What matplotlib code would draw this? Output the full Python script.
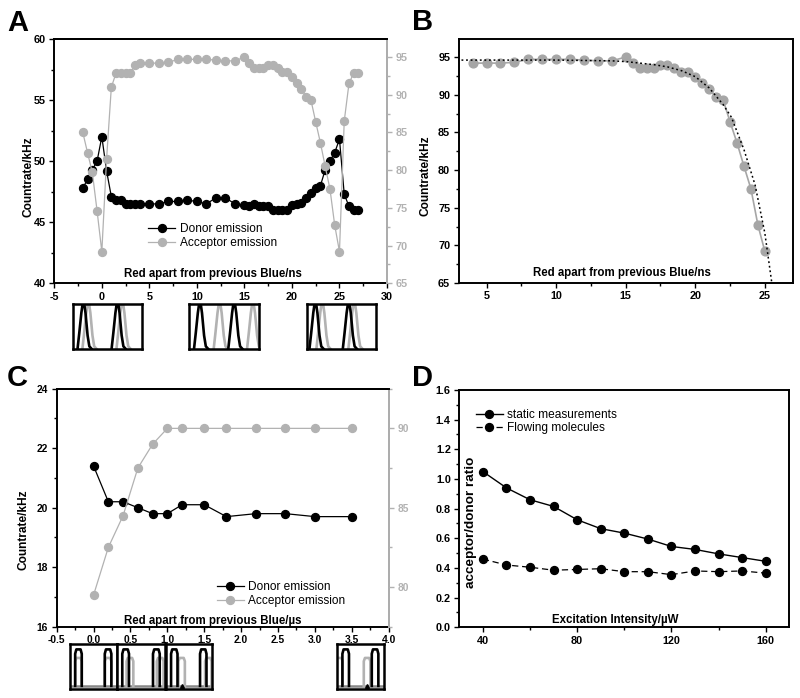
import matplotlib
matplotlib.use("Agg")
import matplotlib.pyplot as plt
from matplotlib.ticker import MultipleLocator
from matplotlib.lines import Line2D

plt.rcParams['font.family'] = ['Liberation Sans', 'DejaVu Sans']
plt.rcParams['axes.unicode_minus'] = False

W, H = 800, 698
BLACK = '#000000'
GRAY = '#b2b2b2'
GRAY_B = '#a6a6a6'

# Panel A
a_donor_x = [-2, -1.5, -1, -0.5, 0, 0.5, 1, 1.5, 2, 2.5, 3, 3.5, 4, 5, 6, 7, 8, 9, 10, 11, 12, 13, 14, 15, 15.5, 16,
             16.5, 17, 17.5, 18, 18.5, 19, 19.5, 20, 20.5, 21, 21.5, 22, 22.5, 23, 23.5, 24, 24.5, 25, 25.5, 26, 26.5, 27]
a_donor_y = [47.8, 48.5, 49.3, 50, 52, 49.2, 47.1, 46.8, 46.8, 46.5, 46.5, 46.5, 46.5, 46.5, 46.5, 46.7, 46.7, 46.8,
             46.7, 46.5, 47, 47, 46.5, 46.4, 46.3, 46.5, 46.3, 46.3, 46.3, 46, 46, 46, 46, 46.4, 46.5, 46.6, 47, 47.4,
             47.8, 48, 49.3, 50, 50.7, 51.8, 47.3, 46.3, 46, 46]
a_acc_x = [-2, -1.5, -1, -0.5, 0, 0.5, 1, 1.5, 2, 2.5, 3, 3.5, 4, 5, 6, 7, 8, 9, 10, 11, 12, 13, 14, 15, 15.5, 16,
           16.5, 17, 17.5, 18, 18.5, 19, 19.5, 20, 20.5, 21, 21.5, 22, 22.5, 23, 23.5, 24, 24.5, 25, 25.5, 26, 26.5, 27]
a_acc_y = [85, 82.3, 79.7, 74.6, 69.2, 81.5, 91, 92.9, 92.9, 92.9, 92.9, 93.9, 94.2, 94.2, 94.2, 94.3, 94.7, 94.7,
           94.7, 94.7, 94.6, 94.5, 94.5, 95, 94.2, 93.5, 93.6, 93.6, 94, 94, 93.5, 93, 93, 92.4, 91.5, 90.8, 89.7,
           89.3, 86.4, 83.6, 80.5, 77.5, 72.7, 69.2, 86.5, 91.5, 92.9, 92.9]

# Panel B
b_x = [4, 5, 6, 7, 8, 9, 10, 11, 12, 13, 14, 15, 15.5, 16, 16.5, 17, 17.5, 18, 18.5, 19, 19.5, 20, 20.5, 21, 21.5, 22,
       22.5, 23, 23.5, 24, 24.5, 25]
b_y = [94.2, 94.2, 94.2, 94.3, 94.7, 94.7, 94.7, 94.7, 94.6, 94.5, 94.5, 95, 94.2, 93.5, 93.6, 93.6, 94, 94, 93.5, 93,
       93, 92.4, 91.5, 90.8, 89.7, 89.3, 86.4, 83.6, 80.5, 77.5, 72.7, 69.2]
b_fit_x = [3.2, 10, 14, 15, 16, 17, 18, 19, 20, 21, 22, 22.6, 23.5, 24.3, 25, 25.5]
b_fit_y = [94.6, 94.6, 94.5, 94.4, 94.2, 94, 93.7, 93.2, 92.4, 90.9, 88.7, 87, 82.7, 78, 71.6, 65]

# Panel C
c_x = [0, 0.2, 0.4, 0.6, 0.8, 1.0, 1.2, 1.5, 1.8, 2.2, 2.6, 3.0, 3.5]
c_donor = [21.4, 20.2, 20.2, 20, 19.8, 19.8, 20.1, 20.1, 19.7, 19.8, 19.8, 19.7, 19.7]
c_acc = [79.5, 82.5, 84.5, 87.5, 89, 90, 90, 90, 90, 90, 90, 90, 90]

# Panel D
d_x = [40, 50, 60, 70, 80, 90, 100, 110, 120, 130, 140, 150, 160]
d_static = [1.05, 0.94, 0.86, 0.815, 0.725, 0.665, 0.635, 0.595, 0.545, 0.525, 0.495, 0.47, 0.445]
d_flow = [0.46, 0.42, 0.405, 0.385, 0.39, 0.395, 0.375, 0.375, 0.355, 0.38, 0.375, 0.38, 0.365]

# Pulse schematics
ns_shape_x = [-0.085, -0.06, -0.03, -0.01, 0.01, 0.03, 0.06, 0.085, 0.12]
ns_shape_y = [0.0, 0.35, 0.8, 1.02, 1.02, 0.8, 0.3, 0.06, 0.0]
a_pulses = [([0.15, 0.64], [0.22, 0.71]), ([0.157, 0.65], [0.44, 0.92]), ([0.12, 0.6], [0.22, 0.68])]
us_shape_x = [-0.07, -0.07, -0.045, 0.045, 0.07, 0.07]
us_shape_y = [0.0, 0.88, 1.0, 1.0, 0.88, 0.0]
c_pulses = [([0.18, 0.81], [0.18, 0.81]), ([0.18, 0.82], [0.27, 0.9]), ([0.18, 0.81], [0.34, 0.92]),
            ([0.185, 0.81], [0.05, 0.64])]

fig = plt.figure(figsize=(W / 100, H / 100), dpi=100, facecolor='white')


def axes_px(l, t, r, b):
    return fig.add_axes([l / W, 1 - b / H, (r - l) / W, (b - t) / H])


def style(ax, color=BLACK, size=7.8):
    for s in ax.spines.values():
        s.set_linewidth(1.4)
    ax.tick_params(which='major', length=3.6, width=1.0, labelsize=size, pad=2.5, colors=color)
    ax.tick_params(which='minor', length=2.2, width=1.0, colors=color)
    for lab in ax.get_xticklabels() + ax.get_yticklabels():
        lab.set_fontweight('bold')


def labels(ax, xl, xc, yl, yc, fs=8.3, yfs=8.6):
    ax.set_xlabel(xl, fontsize=fs, fontweight='bold', va='center')
    ax.xaxis.set_label_coords(*xc)
    ax.set_ylabel(yl, fontsize=yfs, fontweight='bold', va='center')
    ax.yaxis.set_label_coords(*yc)


def leg(ax, handles, names, anchor, fs=8.6):
    ax.legend(handles, names, loc='upper left', bbox_to_anchor=anchor, frameon=False, fontsize=fs, handlelength=2.25,
              handletextpad=0.35, labelspacing=0.12, borderpad=0, borderaxespad=0)


MS = 5.7

# ---------- A ----------
axA = axes_px(54.3, 39, 387, 283.3)
axA.plot(a_donor_x, a_donor_y, '-o', color=BLACK, lw=0.9, ms=MS, zorder=3)
axA.set_xlim(-5, 30)
axA.set_ylim(40, 60)
axA.xaxis.set_major_locator(MultipleLocator(5))
axA.xaxis.set_minor_locator(MultipleLocator(2.5))
axA.yaxis.set_major_locator(MultipleLocator(5))
axA.yaxis.set_minor_locator(MultipleLocator(2.5))
style(axA)
labels(axA, 'Red apart from previous Blue/ns', (0.476, 0.037), 'Countrate/kHz', (-0.079, 0.436))
axA2 = axA.twinx()
axA2.plot(a_acc_x, a_acc_y, '-o', color=GRAY, lw=0.9, ms=MS, zorder=4)
axA2.set_ylim(65, 97.4)
axA2.yaxis.set_major_locator(MultipleLocator(5))
axA2.yaxis.set_minor_locator(MultipleLocator(2.5))
style(axA2, color=GRAY)
axA2.spines['right'].set_color(GRAY)
axA2.spines['left'].set_visible(False)
axA2.spines['bottom'].set_visible(False)
h1 = Line2D([], [], color=BLACK, marker='o', lw=0.9, ms=MS)
h2 = Line2D([], [], color=GRAY, marker='o', lw=0.9, ms=MS)
leg(axA2, [h1, h2], ['Donor emission', 'Acceptor emission'], (0.283, 0.245))

# ---------- B ----------
axB = axes_px(458.7, 39, 792.7, 283)
axB.plot(b_x, b_y, '-o', color=GRAY_B, lw=1.2, ms=MS + 0.6, zorder=3)
axB.plot(b_fit_x, b_fit_y, color=BLACK, lw=1.1, ls=(0, (1.2, 1.8)), zorder=4)
axB.set_xlim(3, 27)
axB.set_ylim(65, 97.4)
axB.xaxis.set_major_locator(MultipleLocator(5))
axB.xaxis.set_minor_locator(MultipleLocator(2.5))
axB.yaxis.set_major_locator(MultipleLocator(5))
axB.yaxis.set_minor_locator(MultipleLocator(2.5))
style(axB)
labels(axB, 'Red apart from previous Blue/ns', (0.489, 0.04), 'Countrate/kHz', (-0.099, 0.44))

# ---------- C ----------
axC = axes_px(56.7, 388.7, 388.7, 626.7)
axC.plot(c_x, c_donor, '-o', color=BLACK, lw=0.9, ms=MS, zorder=3)
axC.set_xlim(-0.5, 4)
axC.set_ylim(16, 24)
axC.xaxis.set_major_locator(MultipleLocator(0.5))
axC.xaxis.set_minor_locator(MultipleLocator(0.25))
axC.yaxis.set_major_locator(MultipleLocator(2))
axC.yaxis.set_minor_locator(MultipleLocator(1))
style(axC, size=7.4)
labels(axC, 'Red apart from previous Blue/µs', (0.471, 0.025), 'Countrate/kHz', (-0.101, 0.406))
axC2 = axC.twinx()
axC2.plot(c_x, c_acc, '-o', color=GRAY, lw=0.9, ms=MS, zorder=4)
axC2.set_ylim(77.5, 92.5)
axC2.yaxis.set_major_locator(MultipleLocator(5))
axC2.yaxis.set_minor_locator(MultipleLocator(2.5))
style(axC2, color=GRAY, size=7.4)
axC2.spines['right'].set_color(GRAY)
axC2.spines['left'].set_visible(False)
axC2.spines['bottom'].set_visible(False)
leg(axC2, [h1, h2], ['Donor emission', 'Acceptor emission'], (0.483, 0.19))

# ---------- D ----------
axD = axes_px(459.3, 390, 789.3, 627.3)
l1, = axD.plot(d_x, d_static, '-o', color=BLACK, lw=1.0, ms=MS, zorder=3)
l2, = axD.plot(d_x, d_flow, '--o', color=BLACK, lw=0.9, ms=MS, zorder=3, dashes=(5, 3))
axD.set_xlim(30, 170)
axD.set_ylim(0, 1.6)
axD.xaxis.set_major_locator(MultipleLocator(40))
axD.xaxis.set_minor_locator(MultipleLocator(20))
axD.yaxis.set_major_locator(MultipleLocator(0.2))
axD.yaxis.set_minor_locator(MultipleLocator(0.1))
style(axD)
labels(axD, 'Excitation Intensity/µW', (0.472, 0.03), 'acceptor/donor ratio', (0.036, 0.441), yfs=9.7)
leg(axD, [l1, l2], ['static measurements', 'Flowing molecules'], (0.05, 0.92))


# ---------- Schematics ----------
def inset(box, pulses, sx, sy, top, base=0.0, marker=False):
    ax = axes_px(*box)
    ax.set_xlim(0, 1)
    ax.set_ylim(0, 1)
    ax.set_xticks([])
    ax.set_yticks([])
    for s in ax.spines.values():
        s.set_linewidth(1.8)
    donors, acceptors = pulses
    for c in acceptors:
        ax.plot([c + v for v in sx], [base + v * top[1] for v in sy], color=GRAY, lw=1.9, zorder=2)
    for c in donors:
        ax.plot([c + v for v in sx], [base + v * top[0] for v in sy], color=BLACK, lw=1.9, zorder=3)
    if base > 0:
        ax.plot([0, 1], [base, base], color='#888888', lw=1.8, zorder=1)
    if marker:
        ax.plot([0.34 if marker == 1 else 0.64], [0.07], marker='^', color=BLACK, ms=2.8, zorder=4)
    return ax


a_boxes = [(73, 304, 142.5, 349), (189, 304, 258.5, 349), (307, 304, 376.5, 349)]
for box, p in zip(a_boxes, a_pulses):
    inset(box, p, ns_shape_x, ns_shape_y, (1.0, 1.0), base=0.0)

c_boxes = [(70, 644, 117, 689), (117, 644, 165, 689), (166, 644, 212, 689), (337, 644, 384, 689)]
for i, (box, p) in enumerate(zip(c_boxes, c_pulses)):
    inset(box, p, us_shape_x, us_shape_y, (0.81, 0.62), base=0.07, marker={2: 1, 3: 2}.get(i, False))

for txt, x, y in [('A', 7, 31), ('B', 412, 29.5), ('C', 7, 386), ('D', 412, 386)]:
    fig.text(x / W, 1 - y / H, txt, fontsize=21, fontweight='bold', ha='left', va='baseline')

fig.savefig('out.png', dpi=100)
